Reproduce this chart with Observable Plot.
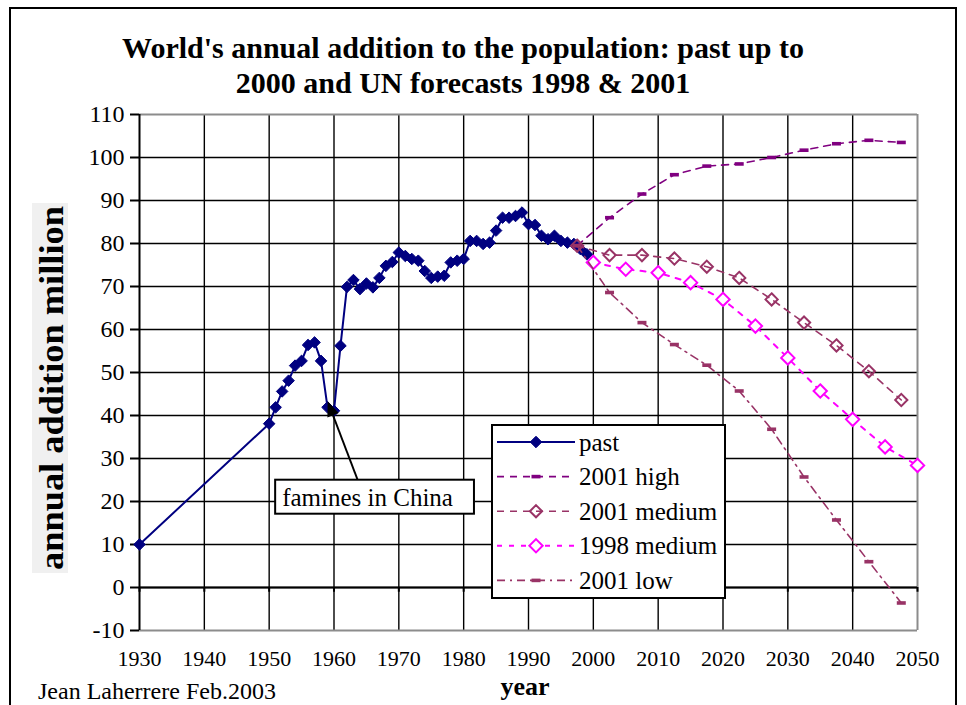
<!DOCTYPE html>
<html><head><meta charset="utf-8">
<script src="https://cdn.jsdelivr.net/npm/d3@7"></script>
<script src="https://cdn.jsdelivr.net/npm/@observablehq/plot@0.6"></script>
<style>
body{margin:0;background:#fff}
#chart{position:relative;width:966px;height:705px;overflow:hidden}
</style>
</head><body><div id="chart"></div>
<script>
// ---- data ----
const pastYears = [1930,1950,1951,1952,1953,1954,1955,1956,1957,1958,1959,1960,1961,1962,1963,1964,1965,1966,1967,1968,1969,1970,1971,1972,1973,1974,1975,1976,1977,1978,1979,1980,1981,1982,1983,1984,1985,1986,1987,1988,1989,1990,1991,1992,1993,1994,1995,1996,1997,1998,1999];
const pastValues = [10,38.1,41.9,45.6,48.1,51.6,52.7,56.4,57,52.7,41.9,41.1,56.2,69.9,71.5,69.4,70.7,69.8,72,74.8,75.7,77.9,77.1,76.4,76,73.6,72,72.3,72.5,75.6,76,76.4,80.6,80.6,79.9,80.2,83,86,86,86.4,87.2,84.5,84.3,81.8,81,81.8,80.6,80.2,79.9,78.7,77.5];
const forecast2001Years = [1997.5,2002.5,2007.5,2012.5,2017.5,2022.5,2027.5,2032.5,2037.5,2042.5,2047.5];
const high2001 = [79.5,86,91.5,96,98,98.5,100,101.7,103.2,104,103.5];
const medium2001 = [79.5,77.3,77.3,76.5,74.6,72,67,61.6,56.3,50.3,43.6];
const low2001 = [79.5,68.6,61.6,56.5,51.7,45.7,36.8,25.7,15.7,6,-3.6];
const forecast1998Years = [2000,2005,2010,2015,2020,2025,2030,2035,2040,2045,2050];
const medium1998 = [75.6,74,73.2,70.9,67,60.8,53.4,45.7,39.1,32.7,28.4];
const xTicks = [1930,1940,1950,1960,1970,1980,1990,2000,2010,2020,2030,2040,2050];
const yTicks = [-10,0,10,20,30,40,50,60,70,80,90,100,110];
const seriesNames = ["past","2001 high","2001 medium","1998 medium","2001 low"];
const titleLines = ["World's annual addition to the population: past up to","2000 and UN forecasts 1998 & 2001"];
const yLabel = "annual addition million";
const xLabel = "year";
const credit = "Jean Laherrere Feb.2003";
const annotation = {text:"famines in China", tipYear:1959.1, tipValue:43.2, fromYear:1963.7, fromValue:25, boxYear:1951, boxValue:21};

// ---- tables ----
const past = pastYears.map((x,i)=>({x, y:pastValues[i]}));
const high = forecast2001Years.map((x,i)=>({x, y:high2001[i]}));
const med01 = forecast2001Years.map((x,i)=>({x, y:medium2001[i]}));
const low = forecast2001Years.map((x,i)=>({x, y:low2001[i]}));
const med98 = forecast1998Years.map((x,i)=>({x, y:medium1998[i]}));

const SERIF = "'Liberation Serif','Times New Roman',serif";
const navy="#000080", purple="#800080", plum="#993366", magenta="#FF00FF";
const dashSym = {draw(ctx){ctx.moveTo(-4.5,-1.8);ctx.lineTo(4.5,-1.8);ctx.lineTo(4.5,1.8);ctx.lineTo(-4.5,1.8);ctx.closePath();}};

const inner = xTicks.slice(1,-1);
const innerY = yTicks.slice(1,-1);

const chart = Plot.plot({
  width:966, height:705,
  marginLeft:139, marginRight:49, marginTop:114, marginBottom:75,
  x:{domain:[1930,2050]},
  y:{domain:[-10,110]},
  style:{fontFamily:SERIF, color:"#000", background:"transparent"},
  marks:[
    Plot.ruleX(inner,{stroke:"#000",strokeWidth:1.4}),
    Plot.ruleY(innerY,{stroke:"#000",strokeWidth:1.4}),
    Plot.ruleY([110,-10],{stroke:"#8c8c8c",strokeWidth:2}),
    Plot.ruleX([2050],{stroke:"#8c8c8c",strokeWidth:2}),
    Plot.ruleY([0],{stroke:"#000",strokeWidth:2}),
    Plot.ruleX([1930],{stroke:"#000",strokeWidth:2}),
    Plot.ruleX(xTicks,{y1:0,y2:-1.1,stroke:"#000",strokeWidth:2}),
    Plot.axisY({ticks:yTicks,tickSize:9,tickPadding:6,label:null,fontSize:24,tickFormat:d=>String(d),stroke:"#000",strokeWidth:2}),
    Plot.axisX({ticks:xTicks,tickSize:0,tickPadding:20,label:null,fontSize:22,tickFormat:d=>String(d)}),
    // past
    Plot.line(past,{x:"x",y:"y",stroke:navy,strokeWidth:2}),
    Plot.dot(past,{x:"x",y:"y",symbol:"diamond2",r:5.2,fill:navy,stroke:navy,strokeWidth:1}),
    // 2001 high
    Plot.line(high,{x:"x",y:"y",stroke:purple,strokeWidth:1.6,strokeDasharray:"7,6"}),
    Plot.dot(high,{x:"x",y:"y",symbol:dashSym,fill:purple}),
    // 2001 medium
    Plot.line(med01,{x:"x",y:"y",stroke:plum,strokeWidth:1.6,strokeDasharray:"7,6"}),
    Plot.dot(med01,{x:"x",y:"y",symbol:"diamond2",r:5.5,fill:"none",stroke:plum,strokeWidth:2}),
    // 1998 medium
    Plot.line(med98,{x:"x",y:"y",stroke:magenta,strokeWidth:2,strokeDasharray:"5,7"}),
    Plot.dot(med98,{x:"x",y:"y",symbol:"diamond2",r:6,fill:"white",stroke:magenta,strokeWidth:2}),
    // 2001 low
    Plot.line(low,{x:"x",y:"y",stroke:plum,strokeWidth:1.6,strokeDasharray:"8,5,2,5"}),
    Plot.dot(low,{x:"x",y:"y",symbol:dashSym,fill:plum})
  ]
});
document.getElementById("chart").appendChild(chart);

const svg = d3.select(chart);
const sx = chart.scale("x"), sy = chart.scale("y");

// outer frame
svg.append("rect").attr("x",10).attr("y",8).attr("width",946).attr("height",720)
  .attr("fill","none").attr("stroke","#000").attr("stroke-width",2);

// title
const t = svg.append("text").attr("font-family",SERIF).attr("font-weight","bold").attr("font-size",30).attr("text-anchor","middle");
titleLines.forEach((s,i)=>t.append("tspan").attr("x",463).attr("y",58+i*35).text(s));

// y label with light background
const yl = svg.append("g").attr("transform","translate(63,388) rotate(-90)");
yl.append("rect").attr("x",-185).attr("y",-31).attr("width",370).attr("height",36).attr("fill","#f0f0f0");
yl.append("text").attr("font-family",SERIF).attr("font-weight","bold").attr("font-size",33)
  .attr("text-anchor","middle").attr("textLength",364).attr("lengthAdjust","spacingAndGlyphs").text(yLabel);

// x label and credit
svg.append("text").attr("x",525).attr("y",695).attr("font-family",SERIF).attr("font-weight","bold")
  .attr("font-size",26).attr("text-anchor","middle").text(xLabel);
svg.append("text").attr("x",38).attr("y",699).attr("font-family",SERIF).attr("text-anchor","start")
  .attr("font-size",24).text(credit);

// annotation
const fx = sx.apply(annotation.fromYear), fy = sy.apply(annotation.fromValue);
const tx = sx.apply(annotation.tipYear), ty = sy.apply(annotation.tipValue);
const ang = Math.atan2(ty-fy, tx-fx);
const hl = 15, hw = 6;
const bx = tx - hl*Math.cos(ang), by = ty - hl*Math.sin(ang);
svg.append("line").attr("x1",fx).attr("y1",fy).attr("x2",bx).attr("y2",by).attr("stroke","#000").attr("stroke-width",2);
svg.append("path").attr("d",`M${tx},${ty}L${bx+hw*Math.sin(ang)},${by-hw*Math.cos(ang)}L${bx-hw*Math.sin(ang)},${by+hw*Math.cos(ang)}Z`).attr("fill","#000");
const ab = svg.append("g");
const abx = sx.apply(annotation.boxYear), aby = sy.apply(annotation.boxValue);
const arect = ab.append("rect").attr("fill","white").attr("stroke","#000").attr("stroke-width",2);
const atext = ab.append("text").attr("x",abx+7).attr("y",aby+9).attr("font-family",SERIF).attr("text-anchor","start").attr("font-size",25).text(annotation.text);
const bb = atext.node().getBBox();
arect.attr("x",abx).attr("y",aby-17).attr("width",bb.width+28).attr("height",34);

// legend
const lg = svg.append("g");
lg.append("rect").attr("x",492).attr("y",425).attr("width",233).attr("height",173)
  .attr("fill","white").attr("stroke","#000").attr("stroke-width",2);
const rows = [
  {c:navy,dash:null,sym:d3.symbolDiamond2,fill:navy,size:85,w:2},
  {c:purple,dash:"7,6",sym:"dash",fill:purple,w:1.6},
  {c:plum,dash:"7,6",sym:d3.symbolDiamond2,fill:"none",size:95,w:1.6},
  {c:magenta,dash:"5,7",sym:d3.symbolDiamond2,fill:"white",size:113,w:2},
  {c:plum,dash:"8,5,2,5",sym:"dash",fill:plum,w:1.6}
];
rows.forEach((r,i)=>{
  const yy = 442 + i*34.6;
  lg.append("line").attr("x1",497).attr("x2",575).attr("y1",yy).attr("y2",yy)
    .attr("stroke",r.c).attr("stroke-width",r.w).attr("stroke-dasharray",r.dash);
  if (r.sym==="dash") {
    lg.append("rect").attr("x",531.5).attr("y",yy-1.8).attr("width",9).attr("height",3.6).attr("fill",r.fill);
  } else {
    lg.append("path").attr("transform",`translate(536,${yy})`).attr("d",d3.symbol(r.sym,r.size)())
      .attr("fill",r.fill).attr("stroke",r.c).attr("stroke-width",i===0?1:2);
  }
  lg.append("text").attr("x",579).attr("y",yy+8.5).attr("font-family",SERIF).attr("text-anchor","start").attr("font-size",25).text(seriesNames[i]);
});
</script>
</body></html>
